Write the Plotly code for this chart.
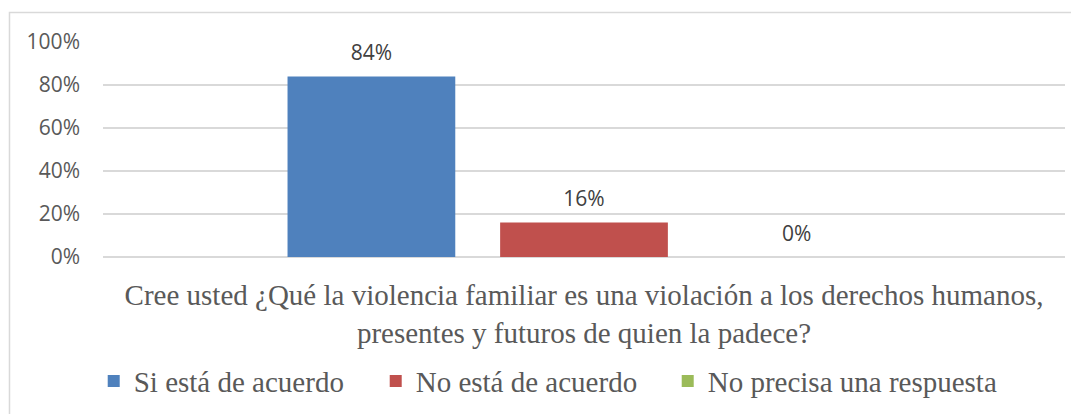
import plotly.graph_objects as go

QUESTION = ["Cree usted ¿Qué la violencia familiar es una violación a los derechos humanos,<br>presentes y futuros de quien la padece?"]
SERIES = ["Si está de acuerdo", "No está de acuerdo", "No precisa una respuesta"]
VALUES = [0.84, 0.16, 0.0]
COLOURS = ["#4F81BD", "#C0504D", "#9BBB59"]
Y_TICKS = [0, 0.2, 0.4, 0.6, 0.8, 1.0]

# legend entry widths (px) so the items are spread like the original
LEGEND_W = [237, 247, 300]

TEXT_GREY = "#595959"
GRID_GREY = "#D9D9D9"

fig = go.Figure()
for name, val, col, lw in zip(SERIES, VALUES, COLOURS, LEGEND_W):
    fig.add_trace(go.Bar(
        x=QUESTION, y=[val], name=name, offsetgroup=name,
        marker=dict(color=col, line=dict(width=0)),
        legendwidth=lw,
    ))

# value labels: grouped text-only scatters so they sit a bit higher above the bars
for name, val in zip(SERIES, VALUES):
    fig.add_trace(go.Scatter(
        x=QUESTION, y=[val], offsetgroup=name, mode="markers+text",
        texttemplate="%{y:.0%}", textposition="top center",
        textfont=dict(family="Open Sans", size=21, color="#404040"),
        marker=dict(size=16, color="rgba(0,0,0,0)"),
        cliponaxis=False, showlegend=False, hoverinfo="skip",
    ))

# page body has an 8px margin, so the figure is a bit smaller than the window
fig.update_layout(
    width=1071, height=406,
    margin=dict(l=95, r=14, t=34, b=157, autoexpand=False),
    paper_bgcolor="white", plot_bgcolor="white",
    barmode="group", bargap=0.337, bargroupgap=0.211,
    scattermode="group", scattergap=0.337,
    showlegend=True,
    legend=dict(orientation="h", x=0.468, xanchor="center", y=-0.577, yanchor="middle",
                font=dict(family="Liberation Serif", size=29, color=TEXT_GREY),
                itemwidth=30, traceorder="normal"),
    shapes=[dict(type="rect", xref="paper", yref="paper",
                 x0=-0.0972, x1=1.2, y0=-1.2, y1=1.137,
                 line=dict(color=GRID_GREY, width=1.5), layer="below")],
)
fig.update_yaxes(range=[0, 1], tickvals=Y_TICKS, tickformat=".0%",
                 showgrid=True, gridcolor=GRID_GREY, gridwidth=1.5,
                 zeroline=True, zerolinecolor=GRID_GREY, zerolinewidth=1.5,
                 showline=False, ticks="", ticklabelstandoff=22, automargin=False,
                 tickfont=dict(family="Open Sans", size=21, color=TEXT_GREY))
fig.update_xaxes(showline=False, ticks="", showgrid=False, automargin=False,
                 ticklabelstandoff=18,
                 tickfont=dict(family="Liberation Serif", size=29, color=TEXT_GREY))

fig.write_html("out.html")
